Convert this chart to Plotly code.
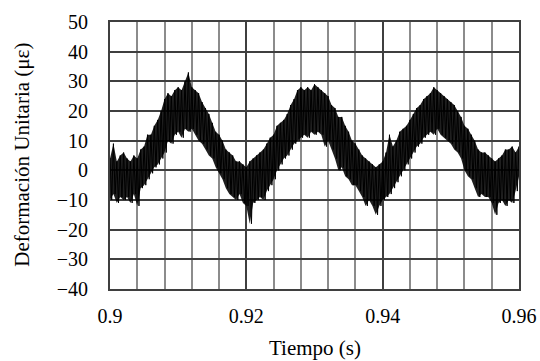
import plotly.graph_objects as go

# sample times (s), every 0.0005 s
t_samples = [round(0.9 + 0.0005 * i, 4) for i in range(121)]

# upper / lower envelope of the noisy strain trace (µε)
upper = [4, 9, 3, 5, 6, 4, 3, 5, 4, 7,
         8, 12, 12, 15, 17, 20, 24, 26, 25, 27,
         28, 27, 30, 33, 28, 27, 26, 23, 21, 19,
         16, 13, 12, 10, 7, 6, 5, 3, 3, 2,
         1, 3, 4, 5, 6, 7, 9, 11, 12, 15,
         16, 17, 19, 22, 24, 27, 28, 27, 28, 27,
         29, 28, 27, 26, 25, 22, 21, 18, 18, 15,
         13, 10, 9, 7, 5, 4, 3, 2, 1, 2,
         3, 6, 12, 8, 10, 13, 14, 15, 17, 19,
         21, 22, 24, 25, 26, 28, 27, 26, 25, 24,
         23, 22, 20, 18, 15, 14, 12, 10, 7, 6,
         6, 5, 4, 3, 4, 5, 7, 7, 8, 6,
         8]
lower = [-10, -8, -11, -9, -10, -9, -11, -8, -12, -6,
         -5, -3, -1, 1, 2, 4, 6, 10, 9, 12,
         13, 11, 14, 13, 14, 12, 10, 9, 7, 5,
         4, 1, -1, -3, -6, -8, -9, -10, -8, -11,
         -12, -18, -11, -10, -9, -10, -7, -5, -3, 0,
         2, 4, 5, 7, 9, 10, 11, 12, 11, 13,
         12, 13, 12, 8, 10, 7, 4, 0, 1, -2,
         -3, -5, -5, -7, -9, -12, -10, -12, -15, -12,
         -10, -9, -8, -6, -4, -2, 0, 2, 4, 6,
         8, 9, 11, 12, 13, 12, 14, 12, 11, 10,
         9, 7, 6, 4, 0, -2, -3, -6, -9, -8,
         -9, -9, -11, -15, -11, -10, -12, -10, -11, -7,
         -2]

x_ticks = [0.9, 0.92, 0.94, 0.96]
x_tick_text = ["0.9", "0.92", "0.94", "0.96"]
y_ticks = [-40, -30, -20, -10, 0, 10, 20, 30, 40, 50]

# zigzag trace alternating between the envelopes
xs, ys = [], []
for t, hi, lo in zip(t_samples, upper, lower):
    xs += [t, t + 0.00025]
    ys += [hi, lo]

font_family = "Liberation Serif, Times New Roman, serif"

fig = go.Figure()
# dense band between envelopes
fig.add_trace(go.Scatter(x=t_samples + t_samples[::-1], y=upper + lower[::-1],
                         mode="lines", fill="toself", fillcolor="rgba(0,0,0,0.88)",
                         line=dict(width=0), showlegend=False, hoverinfo="skip"))
fig.add_trace(go.Scatter(x=xs, y=ys, mode="lines",
                         line=dict(color="black", width=1), showlegend=False))

fig.update_layout(
    width=540, height=361,
    margin=dict(l=110, r=21, t=22, b=72),
    paper_bgcolor="white", plot_bgcolor="white",
    font=dict(family=font_family, color="black", size=20),
    xaxis=dict(
        range=[0.9, 0.96], tickvals=x_ticks, ticktext=x_tick_text,
        showgrid=True, gridcolor="#3f3f3f", gridwidth=1.5,
        minor=dict(dtick=0.004, showgrid=True, gridcolor="#8c8c8c", gridwidth=1.5),
        showline=True, mirror=True, linecolor="#3f3f3f", linewidth=2,
        ticks="outside", ticklen=8, tickcolor="rgba(0,0,0,0)",
        tickfont=dict(size=20, family=font_family),
        automargin=False, zeroline=False,
    ),
    yaxis=dict(
        range=[-40, 50], tickvals=y_ticks,
        showgrid=True, gridcolor="#3f3f3f", gridwidth=1.5,
        showline=True, mirror=True, linecolor="#3f3f3f", linewidth=2,
        ticks="outside", ticklen=16, tickcolor="rgba(0,0,0,0)",
        tickfont=dict(size=20, family=font_family),
        automargin=False, zeroline=False,
    ),
    annotations=[
        dict(text="Tiempo (s)", xref="paper", yref="paper", x=0.5, y=-0.222,
             xanchor="center", yanchor="middle", showarrow=False,
             font=dict(size=21, family=font_family, color="black")),
        dict(text="Deformación Unitaria (με)", xref="paper", yref="paper",
             x=-0.215, y=0.503, xanchor="center", yanchor="middle", textangle=-90,
             showarrow=False, font=dict(size=21, family=font_family, color="black")),
    ],
)

fig.write_html("out.html")
